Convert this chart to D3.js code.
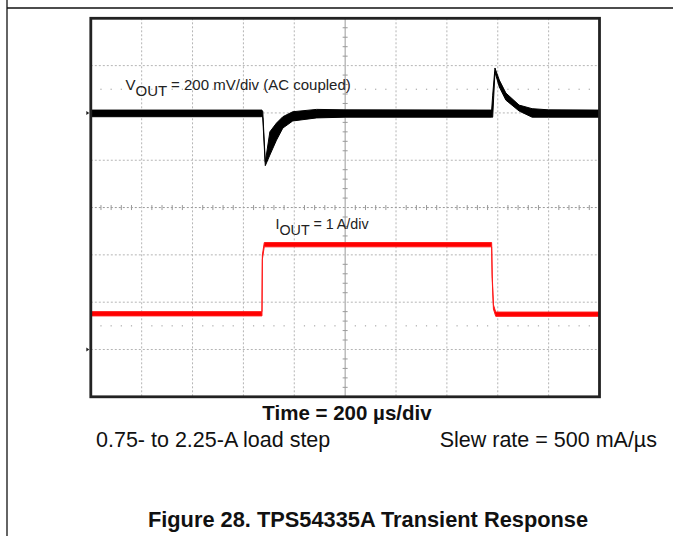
<!DOCTYPE html>
<html><head><meta charset="utf-8">
<script src="https://cdn.jsdelivr.net/npm/d3@7"></script>
<style>
html,body{margin:0;padding:0;background:#fff;}
svg{display:block;font-family:"Liberation Sans",Arial,sans-serif;}
text{white-space:pre;}
</style></head>
<body>
<svg id="c" width="673" height="536"></svg>
<script>
// ---- data ----
// time axis: 200 us/div, 10 divisions
const timeRange = [0, 2000];            // us
// Vout (AC coupled), mV, 200 mV/div : upper / lower noise envelope
const voutTime  = [0, 672, 676, 686, 704, 730, 755, 794, 888, 1000, 1576, 1580, 1589, 1606, 1632, 1684, 1735, 1800, 2000];
const voutUpper = [12, 12, 8, -208, -80, -43, -16, 5, 15, 13, 12, 75, 190, 139, 84, 33, 18, 13, 12];
const voutLower = [-16, -16, -20, -223, -178, -115, -64, -34, -21, -18, -18, -18, 172, 110, 54, 8, -18, -18, -18];
// Iout, A, 1 A/div
const ioutTime  = [0, 673, 674.5, 682, 1576, 1578, 1583, 1592, 2000];
const ioutValue = [0.755, 0.755, 1.95, 2.215, 2.215, 1.55, 0.9, 0.746, 0.746];
const ioutNoise = 0.045; // half band width in A

const labels = {
  vout: ["V", "OUT", " = 200 mV/div (AC coupled)"],
  iout: ["I", "OUT", " = 1 A/div"],
  time: "Time = 200 \u00B5s/div",
  left: "0.75- to 2.25-A load step",
  right: "Slew rate = 500 mA/\u00B5s",
  title: "Figure 28. TPS54335A Transient Response"
};

// ---- layout ----
const svg = d3.select("#c");
const X0 = 90.8, X1 = 599.5, Y0 = 18.3, Y1 = 396.8;
const nx = 10, ny = 8;

const x = d3.scaleLinear().domain(timeRange).range([X0, X1]);
// ch1 reference at 2 div from top: top = +400 mV, bottom = -1200 mV
const yV = d3.scaleLinear().domain([-1200, 400]).range([Y1, Y0]);
// ch2 reference at 7 div from top: top = 7 A, bottom = -1 A
const yI = d3.scaleLinear().domain([-1, 7]).range([Y1, Y0]);

// page border lines
svg.append("line").attr("x1", 7).attr("x2", 7).attr("y1", 0).attr("y2", 536)
  .attr("stroke", "#111").attr("stroke-width", 1.3);
svg.append("line").attr("x1", 7).attr("x2", 673).attr("y1", 8).attr("y2", 8)
  .attr("stroke", "#111").attr("stroke-width", 1.3);

const g = svg.append("g");
// grid
const gridTimes = d3.range(1, nx).map(k => timeRange[0] + k * (timeRange[1] - timeRange[0]) / nx);
g.selectAll("line.vg").data(gridTimes).join("line")
  .attr("x1", d => x(d)).attr("x2", d => x(d)).attr("y1", Y0).attr("y2", Y1)
  .attr("stroke", d => d === 1000 ? "#9a9a9a" : "#b5b5b5")
  .attr("stroke-width", 1)
  .attr("stroke-dasharray", d => d === 1000 ? null : "2,2");
const gridV = d3.range(1, ny).map(k => 400 - k * 200);
g.selectAll("line.hg").data(gridV).join("line")
  .attr("x1", X0).attr("x2", X1).attr("y1", d => yV(d)).attr("y2", d => yV(d))
  .attr("stroke", d => d === -400 ? "#9a9a9a" : "#b5b5b5")
  .attr("stroke-width", 1)
  .attr("stroke-dasharray", "2,2");
// minor ticks on centre lines
const minorT = d3.range(1, nx * 5).map(k => k * 2000 / (nx * 5)).filter(t => t % 200 !== 0);
g.selectAll("line.mt").data(minorT).join("line")
  .attr("x1", d => x(d)).attr("x2", d => x(d))
  .attr("y1", yV(-400) - 2.5).attr("y2", yV(-400) + 2.5)
  .attr("stroke", "#9a9a9a").attr("stroke-width", 1);
const minorV = d3.range(1, ny * 5).map(k => 400 - k * 40).filter(v => v % 200 !== 0);
g.selectAll("line.mv").data(minorV).join("line")
  .attr("x1", x(1000) - 2.5).attr("x2", x(1000) + 2.5)
  .attr("y1", d => yV(d)).attr("y2", d => yV(d))
  .attr("stroke", "#9a9a9a").attr("stroke-width", 1);
// dotted rows half a division above each reference
const dotRows = [yV(100), yI(0.5)];
dotRows.forEach(yy => {
  g.selectAll(null).data(minorT).join("rect")
    .attr("x", d => x(d) - 0.6).attr("y", yy - 0.6).attr("width", 1.2).attr("height", 1.2)
    .attr("fill", "#aaa");
});

// traces
const vData = voutTime.map((t, i) => ({t, u: voutUpper[i], l: voutLower[i]}));
g.append("path").datum(vData)
  .attr("d", d3.area().x(d => x(d.t)).y0(d => yV(d.l)).y1(d => yV(d.u)))
  .attr("fill", "#000").attr("stroke", "#000").attr("stroke-width", 1);

const iData = ioutTime.map((t, i) => ({t, v: ioutValue[i]}));
g.append("path").datum(iData)
  .attr("d", d3.area().x(d => x(d.t)).y0(d => yI(d.v - ioutNoise)).y1(d => yI(d.v + ioutNoise)))
  .attr("fill", "#ff0000").attr("stroke", "#ff1a1a").attr("stroke-width", 1);

// frame
g.append("rect").attr("x", X0).attr("y", Y0).attr("width", X1 - X0).attr("height", Y1 - Y0)
  .attr("fill", "none").attr("stroke", "#222").attr("stroke-width", 2.8);

// reference markers
[yV(0), yI(0)].forEach(yy => {
  svg.append("path")
    .attr("d", `M${X0 - 4.5},${yy - 2}L${X0 - 1.5},${yy}L${X0 - 4.5},${yy + 2}Z`)
    .attr("fill", "#222");
});

// channel labels
function chLabel(parts, xx, yy, fs) {
  const t = svg.append("text").attr("x", xx).attr("y", yy)
    .attr("font-size", fs).attr("fill", "#222");
  t.append("tspan").text(parts[0]);
  t.append("tspan").attr("dy", 5.5).text(parts[1]);
  t.append("tspan").attr("dy", -5.5).text(parts[2]);
}
chLabel(labels.vout, 125.5, 90, 15);
chLabel(labels.iout, 275.5, 229.3, 14.3);

// captions
svg.append("text").attr("x", 347).attr("y", 420).attr("text-anchor", "middle")
  .attr("font-size", 20.5).attr("font-weight", "bold").attr("fill", "#111").text(labels.time);
svg.append("text").attr("x", 96).attr("y", 447)
  .attr("font-size", 21.5).attr("fill", "#111").text(labels.left);
svg.append("text").attr("x", 657).attr("y", 447).attr("text-anchor", "end")
  .attr("font-size", 21.5).attr("fill", "#111").text(labels.right);
svg.append("text").attr("x", 368).attr("y", 527).attr("text-anchor", "middle")
  .attr("font-size", 21.8).attr("font-weight", "bold").attr("fill", "#111").text(labels.title);
</script>
</body></html>
